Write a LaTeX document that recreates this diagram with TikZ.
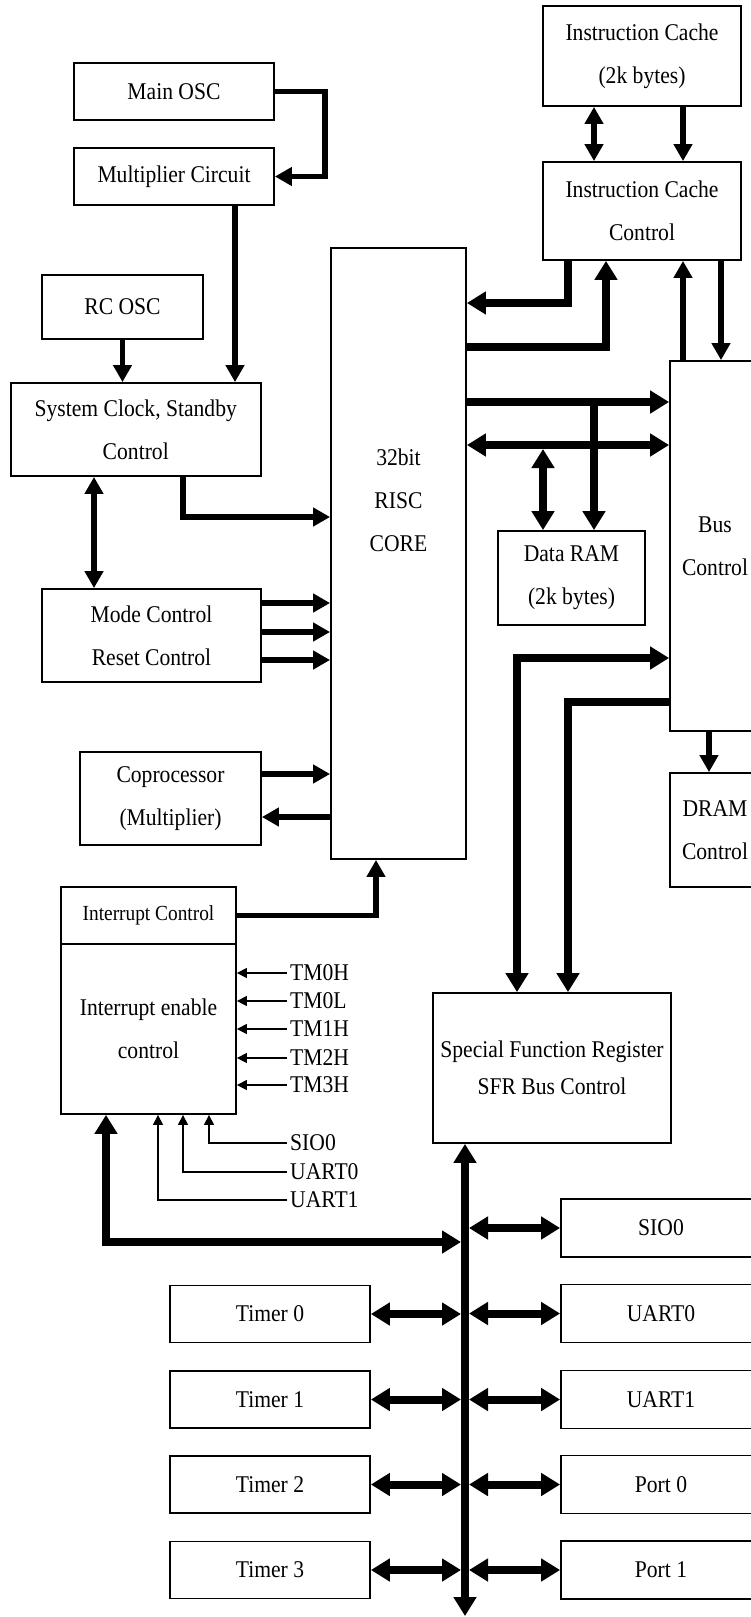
\documentclass[tikz,border=0pt]{standalone}
\usepackage{fontspec}
\setmainfont{Liberation Serif}[FakeStretch=0.9]
\usetikzlibrary{positioning,arrows.meta,calc}
\tikzset{
  box/.style={draw, line width=1.8pt, fill=white, inner sep=0pt, align=center,
    font=\fontsize{24pt}{43pt}\selectfont},
  arr/.style={-{Triangle[length=17pt,width=18pt]}, line width=5.5pt},
  dbl/.style={{Triangle[length=17pt,width=18pt]}-{Triangle[length=17pt,width=18pt]},
    line width=5.5pt},
  warr/.style={-{Triangle[length=19pt,width=22pt]}, line width=8pt},
  wdbl/.style={{Triangle[length=19pt,width=22pt]}-{Triangle[length=19pt,width=22pt]},
    line width=8pt},
  sig/.style={-{Triangle[length=10pt,width=10pt]}, line width=1.4pt},
  lab/.style={font=\fontsize{24pt}{24pt}\selectfont, inner sep=3pt, anchor=west},
}

\begin{document}
\begin{tikzpicture}[x=1pt, y=-1pt]
  \useasboundingbox (0,0) rectangle (751,1617);
  \clip (0,0) rectangle (751,1617);
  % clock and control side
  \node[box, minimum width=200pt, minimum height=57pt] (mosc) at (174,91.5) {Main OSC};
  \node[box, minimum width=200pt, minimum height=57pt] (mult) at (174,176.5) {Multiplier Circuit};
  \node[box, minimum width=161pt, minimum height=64pt] (rcosc) at (122.5,307) {RC OSC};
  \node[box, minimum width=250pt, minimum height=93pt] (sclk) at (135.75,429.5) {System Clock, Standby\\Control};
  \node[box, minimum width=219pt, minimum height=93pt] (mode) at (151.5,635.5) {Mode Control\\Reset Control};
  \node[box, minimum width=181pt, minimum height=93pt] (copro) at (170.5,798.5) {Coprocessor\\(Multiplier)};
  \node[box, minimum width=175pt, minimum height=57pt, font=\fontsize{21.5pt}{26pt}\selectfont] (ictl) at (148.5,915.5) {Interrupt Control};
  \node[box, minimum width=175pt, minimum height=170pt] (ien) at (148.5,1029) {Interrupt enable\\control};
  % core, caches, bus
  \node[box, minimum width=135pt, minimum height=611pt] (cpu) at (398.5,553.5) {};
  \node[align=center, font=\fontsize{24pt}{43pt}\selectfont] (cputxt) at ([yshift=53pt]cpu.center) {32bit\\RISC\\CORE};
  \node[box, minimum width=198pt, minimum height=100pt] (ic) at (642,56) {Instruction Cache\\(2k bytes)};
  \node[box, minimum width=198pt, minimum height=98pt] (icc) at (642,211) {Instruction Cache\\Control};
  \node[box, minimum width=147pt, minimum height=94pt] (dataram) at (571.5,578) {Data RAM\\(2k bytes)};
  \node[box, minimum width=90pt, minimum height=370pt] (bus) at (715,546) {Bus\\Control};
  \node[box, minimum width=90pt, minimum height=114pt] (dram) at (715,830) {DRAM\\Control};
  \node[box, minimum width=238pt, minimum height=150pt, font=\fontsize{24pt}{37pt}\selectfont] (sfr) at (552,1068) {Special Function Register\\SFR Bus Control};
  % peripherals
  \foreach \n/\y in {0/1314,1/1399.5,2/1484.5,3/1570}
    \node[box, minimum width=200pt, minimum height=57pt] (tim\n) at (270,\y) {Timer \n};
  \foreach \nm/\t/\y in {sio/SIO0/1228,ua0/UART0/1313.5,ua1/UART1/1399.5,pt0/Port 0/1484.5,pt1/Port 1/1570}
    \node[box, minimum width=200pt, minimum height=58pt] (\nm) at (661,\y) {\t};
  \coordinate (sbus) at (465,1616);
  \coordinate (jr) at (594,402);
  \coordinate (jd) at (543,449);

  % left connectors
  \draw[arr] (mosc.east) -- ++(50,0) |- (mult.east);
  \draw[arr] (mult.south -| 235,0) -- (sclk.north -| 235,0);
  \draw[arr] (rcosc.south) -- (rcosc.south |- sclk.north);
  \draw[arr] (sclk.south -| 183,0) |- (cpu.west |- 0,517);
  \draw[dbl] (sclk.south -| 94,0) -- (mode.north -| 94,0);
  \foreach \y in {603,632,660} \draw[arr] (mode.east |- 0,\y) -- (cpu.west |- 0,\y);
  \draw[arr] (copro.east |- 0,774) -- (cpu.west |- 0,774);
  \draw[arr] (cpu.west |- 0,817) -- (copro.east |- 0,817);
  \draw[arr] (ictl.east) -| (cpu.south -| 376,0);
  % interrupt sources
  \foreach \nm/\y in {TM0H/973,TM0L/1001,TM1H/1029,TM2H/1058,TM3H/1085} {
    \node[lab] (\nm) at (287,\y) {\nm};
    \draw[sig] (\nm.west) -- (ien.east |- \nm.west);
  }
  \foreach \nm/\x/\y in {SIO0/209/1143,UART0/183/1172,UART1/158/1200} {
    \node[lab] (s\nm) at (287,\y) {\nm};
    \draw[sig] (s\nm.west) -| (ien.south -| \x,0);
  }
  % cache side
  \draw[dbl] (ic.south -| 594,0) -- (icc.north -| 594,0);
  \draw[arr] (ic.south -| 683,0) -- (icc.north -| 683,0);
  \draw[warr] (icc.south -| 568,0) |- (cpu.east |- 0,303);
  \draw[warr] (cpu.east |- 0,347) -| (icc.south -| 606,0);
  \draw[arr] (bus.north -| 683,0) -- (icc.south -| 683,0);
  \draw[arr] (icc.south -| 721,0) -- (bus.north -| 721,0);
  \draw[warr] (cpu.east |- 0,402) -- (bus.west |- 0,402);
  \draw[wdbl] (cpu.east |- 0,445) -- (bus.west |- 0,445);
  \draw[warr] (jr) -- (jr |- dataram.north);
  \draw[wdbl] (jd) -- (jd |- dataram.north);
  \draw[wdbl] (bus.west |- 0,658) -| (sfr.north -| 517,0);
  \draw[warr] (bus.west |- 0,702) -| (sfr.north -| 568,0);
  \draw[arr] (bus.south -| 709,0) -- (dram.north -| 709,0);
  % peripheral bus
  \draw[wdbl] (sbus) -- (sbus |- sfr.south);
  \draw[wdbl, shorten >=4pt] (ien.south -| 106,0) |- (sbus |- 0,1242);
  \foreach \n in {0,...,3} \draw[wdbl, shorten >=4pt] (tim\n.east) -- (tim\n.east -| sbus);
  \foreach \nm in {sio,ua0,ua1,pt0,pt1} \draw[wdbl, shorten <=4pt] (\nm.west -| sbus) -- (\nm.west);
\end{tikzpicture}
\end{document}
